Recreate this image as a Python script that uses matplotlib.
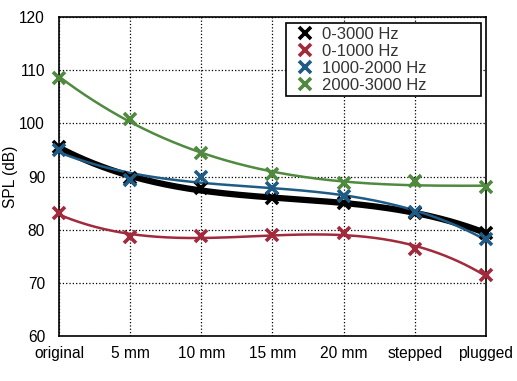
import numpy as np
import matplotlib.pyplot as plt

plt.rcParams['font.family'] = ['Liberation Sans', 'DejaVu Sans']

# configurações do furo
configs = ['original', '5 mm', '10 mm', '15 mm', '20 mm', 'stepped', 'plugged']

# SPL medido por banda (dB)
spl_total = [95.6, 89.7, 87.8, 86.0, 85.0, 83.1, 79.4]
spl_low = [83.1, 78.6, 78.8, 79.0, 79.3, 76.4, 71.5]
spl_mid = [95.0, 89.4, 90.0, 87.8, 86.3, 83.4, 78.2]
spl_high = [108.6, 100.8, 94.5, 90.5, 88.8, 89.1, 88.0]

series = [
    ('0-3000 Hz', spl_total, '#000000', 4.5),
    ('0-1000 Hz', spl_low, '#A12A3C', 1.8),
    ('1000-2000 Hz', spl_mid, '#1F5C85', 1.8),
    ('2000-3000 Hz', spl_high, '#4F8A3F', 1.8),
]

fig = plt.figure(figsize=(5.17, 3.81), dpi=100)
ax = fig.add_axes([0.114, 0.118, 0.826, 0.837])

x = np.arange(len(configs))
xs = np.linspace(0, len(configs) - 1, 200)

# curvas de tendência (polinômio de 3º grau) + pontos medidos
for nome, vals, cor, lw in series:
    coef = np.polyfit(x, vals, 3)
    ax.plot(xs, np.polyval(coef, xs), color=cor, lw=lw, zorder=2)
    ax.plot(x, vals, linestyle='none', marker='x', ms=8, mew=2.6,
            color=cor, label=nome, zorder=3, clip_on=False)

ax.set_xlim(0, len(configs) - 1)
ax.set_ylim(60, 120)
ax.set_yticks(range(60, 121, 10))
ax.set_xticks(x)
ax.set_xticklabels(configs, fontsize=11.2)
ax.tick_params(axis='y', labelsize=11.2, length=0, pad=10)
ax.tick_params(axis='x', length=0, pad=7)
ax.grid(True, color='black', linestyle=':', linewidth=0.9)
ax.set_axisbelow(True)
for s in ax.spines.values():
    s.set_linewidth(1.2)
ax.set_ylabel('SPL (dB)', fontsize=11.2)
ax.yaxis.set_label_coords(-0.097, 0.5)

# legenda mais larga que o conteúdo, como no original
leg = ax.legend(loc='upper left', bbox_to_anchor=(0.532, 0.981, 0.456, 0),
                mode='expand', fontsize=12, fancybox=False, framealpha=1,
                edgecolor='black', handlelength=1.9, handletextpad=0.05,
                borderpad=0.2, labelspacing=0.12, borderaxespad=0)
leg.get_frame().set_linewidth(1.2)
for t in leg.get_texts():
    t.set_color('#333333')

fig.savefig('out.png', dpi=100)
